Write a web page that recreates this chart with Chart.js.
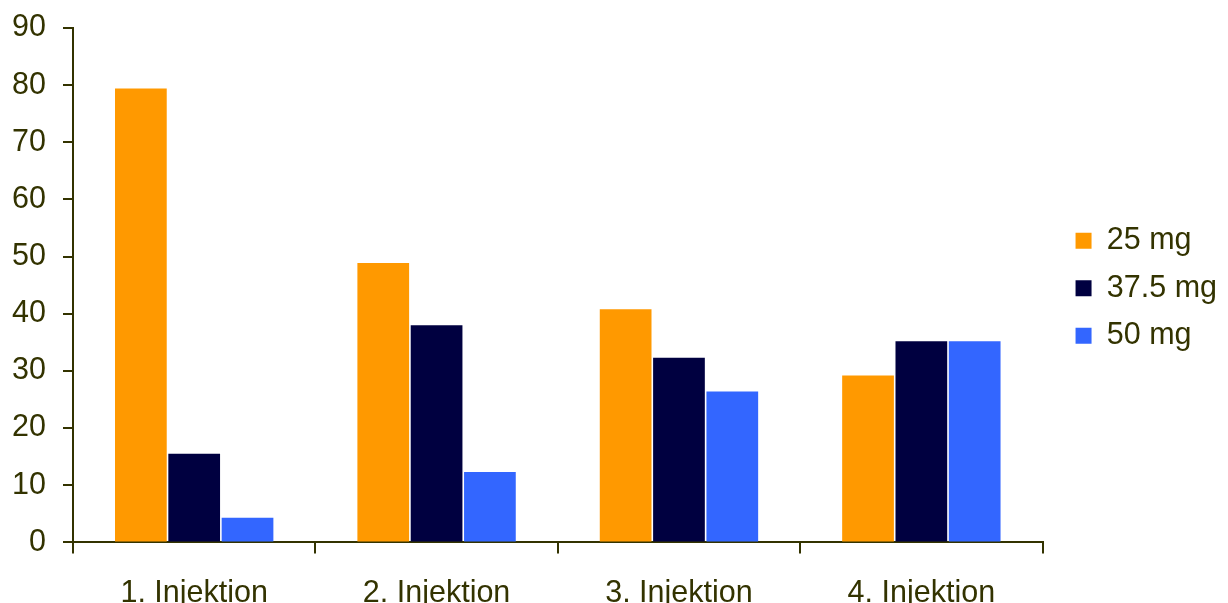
<!DOCTYPE html>
<html>
<head>
<meta charset="utf-8">
<script src="https://cdn.jsdelivr.net/npm/chart.js@4/dist/chart.umd.min.js"></script>
<style>
  html, body { margin:0; padding:0; background:#fff; overflow:hidden; }
  #wrap { position:relative; width:1228px; height:634px; }
</style>
</head>
<body>
<div id="wrap"><canvas id="chart"></canvas></div>
<script>
// 資料
const categories = ['1. Injektion', '2. Injektion', '3. Injektion', '4. Injektion'];
const dose25     = [79.4, 48.9, 40.8, 29.2];
const dose375    = [15.5, 38.0, 32.3, 35.2];
const dose50     = [4.3, 12.3, 26.4, 35.2];
const yTicks     = { min: 0, max: 90, step: 10 };

const INK  = '#333300';
const FONT = { family: 'Liberation Sans, Arial, sans-serif', size: 30.5 };
const GAP  = 16;

// 圖例加寬並往右推，讓圖表與圖例之間留空
const legendGap = {
  id: 'legendGap',
  beforeLayout(chart) {
    const lg = chart.legend;
    if (lg && !lg._gapPatched) {
      const fit = lg.fit.bind(lg);
      lg.fit = function () { fit(); this.width += GAP; };
      lg._gapPatched = true;
    }
  },
  afterLayout(chart) {
    const lg = chart.legend;
    if (!lg) return;
    lg.left += GAP;
    lg.top += 3;
    lg.bottom += 3;
  }
};

const ctx = document.getElementById('chart').getContext('2d');
new Chart(ctx, {
  type: 'bar',
  data: {
    labels: categories,
    datasets: [
      { label: '25 mg',   data: dose25,  backgroundColor: '#FF9900' },
      { label: '37.5 mg', data: dose375, backgroundColor: '#000040' },
      { label: '50 mg',   data: dose50,  backgroundColor: '#3366FF' }
    ]
  },
  options: {
    responsive: true,
    maintainAspectRatio: false,
    animation: false,
    categoryPercentage: 0.66,
    barPercentage: 0.97,
    layout: { padding: { top: 28, right: 1, left: 0, bottom: 0 } },
    plugins: {
      tooltip: { enabled: false },
      legend: {
        position: 'right',
        fullSize: false,
        labels: {
          color: INK,
          font: FONT,
          boxWidth: 16,
          boxHeight: 16,
          padding: 17
        }
      }
    },
    scales: {
      x: {
        grid: { display: true, drawOnChartArea: false, drawTicks: true, tickLength: 11, color: INK, lineWidth: 2 },
        border: { display: true, color: INK, width: 2 },
        ticks: { color: INK, font: FONT, padding: 22, maxRotation: 0 }
      },
      y: {
        min: yTicks.min,
        max: yTicks.max,
        afterFit: s => { s.width = 73; s.paddingTop = 0; s.paddingBottom = 0; },
        grid: { display: true, drawOnChartArea: false, drawTicks: true, tickLength: 10, color: INK, lineWidth: 2 },
        border: { display: true, color: INK, width: 2 },
        ticks: { stepSize: yTicks.step, color: INK, font: FONT, padding: 17 }
      }
    }
  },
  plugins: [legendGap]
});
</script>
</body>
</html>
